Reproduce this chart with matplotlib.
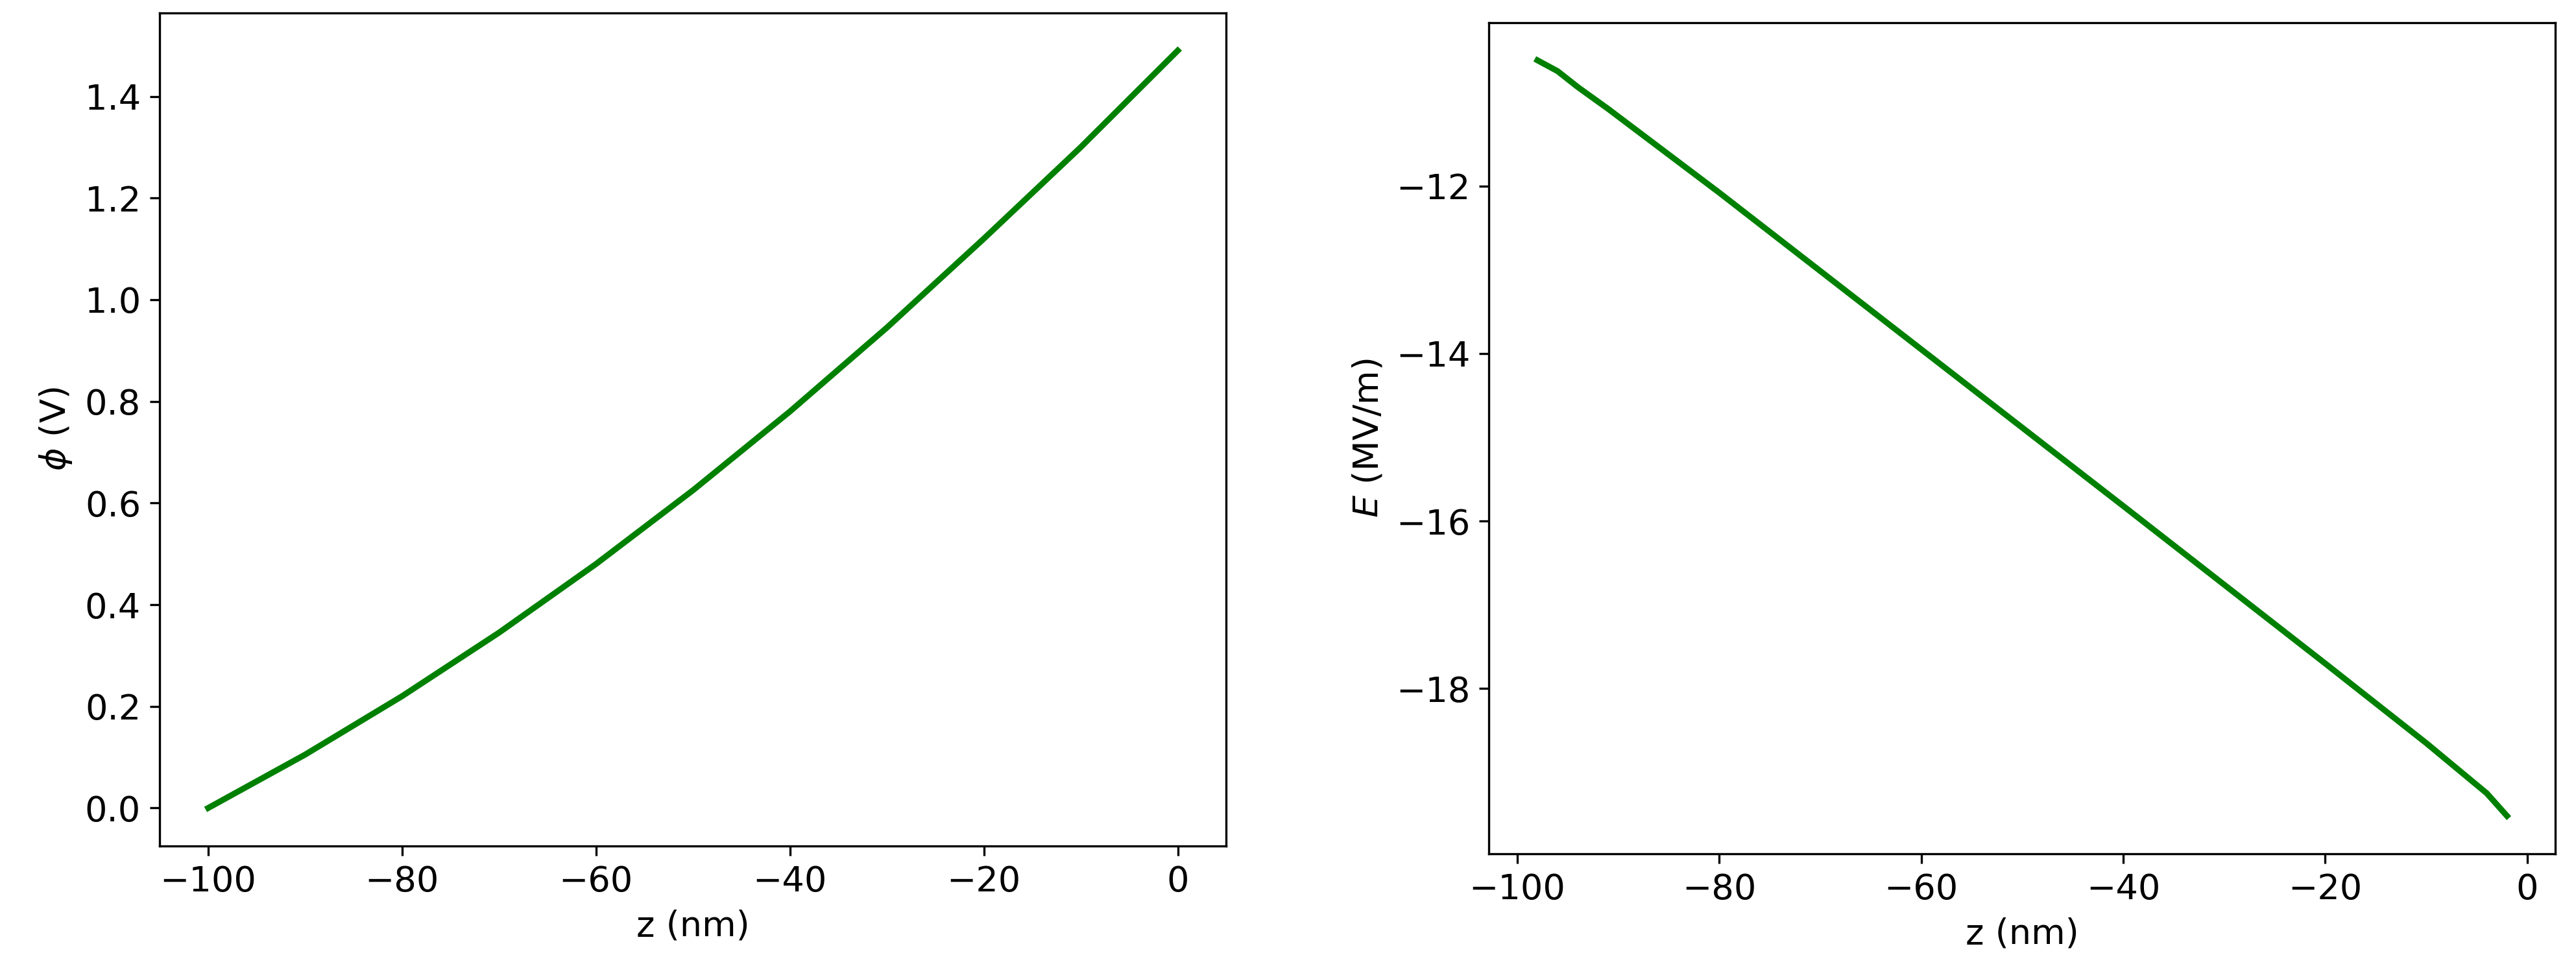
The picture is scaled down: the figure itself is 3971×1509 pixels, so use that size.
import matplotlib
matplotlib.use("Agg")
import matplotlib.pyplot as plt

# potential profile
z_phi = [-100, -90, -80, -70, -60, -50, -40, -30, -20, -10, 0]
phi = [0.0, 0.105, 0.22, 0.345, 0.48, 0.625, 0.78, 0.945, 1.12, 1.30, 1.49]

# field profile
z_E = [-98, -96, -94, -91, -80, -60, -40, -20, -10, -4, -2]
E = [-10.5, -10.63, -10.82, -11.08, -12.08, -13.95, -15.82, -17.7, -18.65, -19.25, -19.52]

plt.rcParams["font.size"] = 13

fig = plt.figure(figsize=(13.237, 5.03), dpi=300)
ax1 = fig.add_axes([0.062, 0.136, 0.414, 0.851])
ax2 = fig.add_axes([0.578, 0.128, 0.414, 0.849])

ax1.plot(z_phi, phi, color="green", linewidth=2.2)
ax1.set_xlabel("z (nm)")
ax1.set_ylabel(r"$\phi$ (V)")

ax2.plot(z_E, E, color="green", linewidth=2.2)
ax2.set_xlabel("z (nm)")
ax2.set_ylabel(r"$E$ (MV/m)")
ax2.set_yticks([-12, -14, -16, -18])

fig.savefig("out.png", dpi=300)
